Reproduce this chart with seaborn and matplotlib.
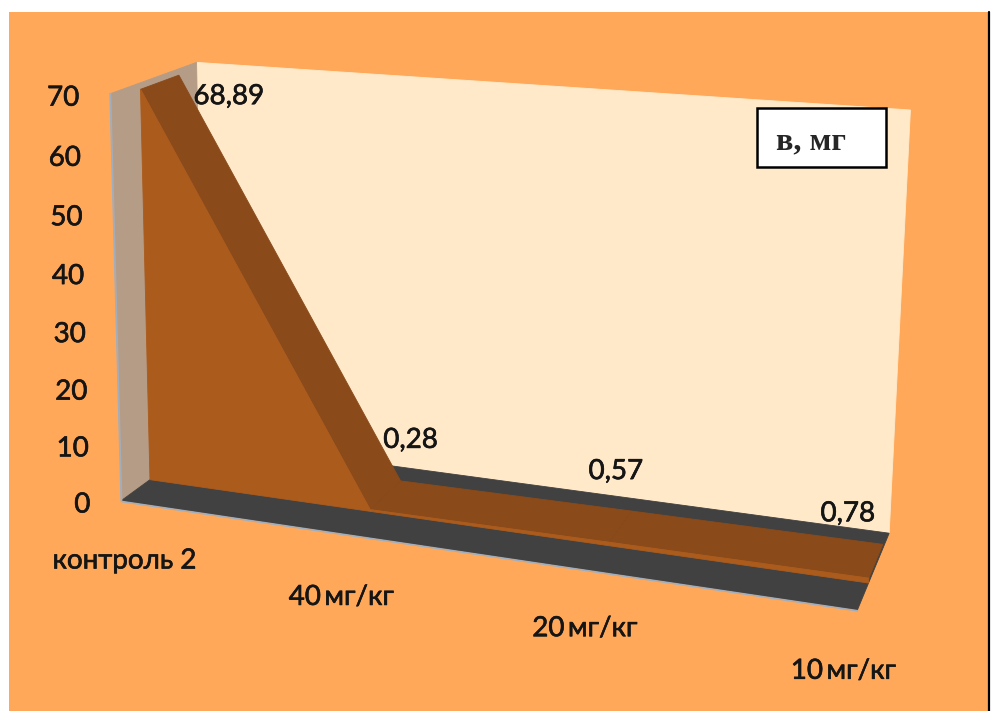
import numpy as np
import matplotlib
matplotlib.use("Agg")
import matplotlib.pyplot as plt
import matplotlib.patheffects as pe
import seaborn as sns
from matplotlib.patches import Polygon, Rectangle

# ---- data -------------------------------------------------------------
categories = ["контроль 2", "40\u2009мг/кг", "20\u2009мг/кг", "10\u2009мг/кг"]
values = [68.89, 0.28, 0.57, 0.78]
value_labels = ["68,89", "0,28", "0,57", "0,78"]
y_ticks = [0, 10, 20, 30, 40, 50, 60, 70]
title_text = "в, мг"

# ---- style ------------------------------------------------------------
Y_MAX = 70
ORANGE = "#FFA859"
WALL_BACK = "#FFE9C9"
WALL_SIDE = "#B59C86"
FLOOR = "#414141"
FACE_FRONT = "#AB5B1C"
FACE_TOP = "#8A4A1A"
EDGE_LIGHT = "#A3AEBD"
INK = "#151515"
BOLDEN = [pe.withStroke(linewidth=0.45, foreground=INK)]

sns.set_theme(style="white")
plt.rcParams["font.family"] = ["Lato", "DejaVu Sans"]

W, H = 992, 711
fig = plt.figure(figsize=(W / 100, H / 100), dpi=100)
fig.patch.set_facecolor("white")
ax = fig.add_axes([0, 0, 1, 1])
ax.set_xlim(0, W)
ax.set_ylim(H, 0)
ax.axis("off")

# ---- perspective camera ----------------------------------------------
# world axes: u = category position (0..1), v = value / Y_MAX, w = depth (front 0 .. back 1)
frame_world = np.array([[0, 0, 0], [0, 1, 0], [0, 0, 1], [0, 1, 1],
                        [1, 0, 1], [1, 1, 1], [1, 0, 0]], float)
frame_pixels = np.array([[125, 501], [107, 93], [200, 440], [200, 63],
                         [890, 533], [910, 110], [857, 610]], float)


def fit_camera(world, pix, scale=1000.0):
    rows = []
    for (X, Y, Z), (x, y) in zip(world, pix / scale):
        rows.append([X, Y, Z, 1, 0, 0, 0, 0, -x * X, -x * Y, -x * Z, -x])
        rows.append([0, 0, 0, 0, X, Y, Z, 1, -y * X, -y * Y, -y * Z, -y])
    _, _, vt = np.linalg.svd(np.array(rows))
    return vt[-1].reshape(3, 4), scale


CAM, CAM_SCALE = fit_camera(frame_world, frame_pixels)


def proj(pts):
    pts = np.asarray(pts, float).reshape(-1, 3)
    h = np.column_stack([pts, np.ones(len(pts))]) @ CAM.T
    return CAM_SCALE * h[:, :2] / h[:, 2:3]


def face(pts, color, z):
    ax.add_patch(Polygon(proj(pts), closed=True, facecolor=color,
                         edgecolor=color, lw=0.6, zorder=z))


def label(x, y, s, **kw):
    ax.text(x, y, s, fontsize=20, color=INK, zorder=8, path_effects=BOLDEN, **kw)


# ---- background -------------------------------------------------------
ax.add_patch(Rectangle((9, 12), 980, 700, facecolor=ORANGE, edgecolor="none", zorder=0))
ax.plot([989, 989], [12, H], color="black", lw=1.6, zorder=1)

# ---- walls and floor -------------------------------------------------
face([(0, 0, 1), (1, 0, 1), (1, 1, 1), (0, 1, 1)], WALL_BACK, 2)
face([(0, 0, 0), (0, 1, 0), (0, 1, 1), (0, 0, 1)], WALL_SIDE, 3)
face([(0, 0, 0), (1, 0, 0), (1, 0, 1), (0, 0, 1)], FLOOR, 3)
edge = proj([(0, 0, 0), (0, 1, 0)])
ax.plot(edge[:, 0], edge[:, 1], color=EDGE_LIGHT, lw=1.4, zorder=4)
edge = proj([(0, 0, 0), (1, 0, 0)])
ax.plot(edge[:, 0], edge[:, 1] + 1, color=EDGE_LIGHT, lw=1.2, zorder=4)

# ---- 3D area series --------------------------------------------------
n = len(values)
u = np.arange(n) / (n - 1)
v = np.asarray(values) / Y_MAX
W_FRONT, W_BACK = 0.33, 0.78

for i in range(n - 1):
    face([(u[i], v[i], W_FRONT), (u[i + 1], v[i + 1], W_FRONT),
          (u[i + 1], v[i + 1], W_BACK), (u[i], v[i], W_BACK)], FACE_TOP, 5)

front = [(ui, 0, W_FRONT) for ui in u] + [(ui, vi, W_FRONT) for ui, vi in zip(u[::-1], v[::-1])]
face(front, FACE_FRONT, 6)
top_edge = proj([(ui, vi, W_FRONT) for ui, vi in zip(u, v)])
sns.lineplot(x=top_edge[:, 0], y=top_edge[:, 1], sort=False, estimator=None,
             color=FACE_FRONT, lw=0.8, ax=ax, zorder=7)

# ---- value axis ticks ------------------------------------------------
for t in y_ticks:
    x, y = proj([(0, t / Y_MAX, 0)])[0]
    label(x - 31, y + 4, str(t), ha="right", va="center")

# ---- category labels -------------------------------------------------
cat_offsets = [(3, 60), (-5, 63), (-6, 58), (-14, 61)]
for ui, lab, (dx, dy) in zip(u, categories, cat_offsets):
    x, y = proj([(ui, 0, 0)])[0]
    label(x + dx, y + dy, lab, ha="center", va="center")

# ---- value labels ----------------------------------------------------
val_offsets = [(50, 21), (10, -41), (-16, -40), (-35, -31)]
for ui, vi, lab, (dx, dy) in zip(u, v, value_labels, val_offsets):
    x, y = proj([(ui, vi, W_BACK)])[0]
    label(x + dx, y + dy, lab, ha="center", va="center")

# ---- title box -------------------------------------------------------
ax.add_patch(Rectangle((757, 108), 129, 59, facecolor="white", edgecolor="black",
                       lw=1.8, zorder=9))
ax.text(811, 149, title_text, ha="center", va="baseline", fontsize=23,
        fontweight="bold", family=["Liberation Serif", "DejaVu Serif"], zorder=10)

fig.savefig("out.png", dpi=100, facecolor=fig.get_facecolor())
